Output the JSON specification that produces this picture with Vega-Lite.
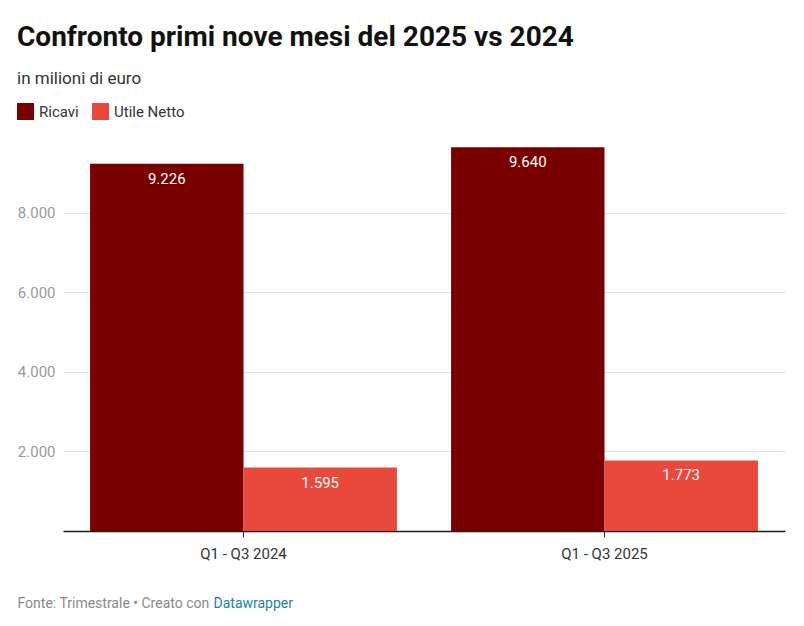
{
  "$schema": "https://vega.github.io/schema/vega-lite/v6.json",
  "width": 722,
  "height": 398,
  "autosize": {"type": "none"},
  "padding": {"left": 63, "top": 133, "right": 19, "bottom": 95},
  "background": "#ffffff",
  "title": {
    "text": "Confronto primi nove mesi del 2025 vs 2024",
    "subtitle": "in milioni di euro",
    "anchor": "start",
    "frame": "group",
    "dx": -46,
    "offset": 16,
    "font": "Roboto",
    "fontSize": 28,
    "fontWeight": "bold",
    "color": "#111111",
    "subtitleFont": "Roboto",
    "subtitleFontSize": 17,
    "subtitleColor": "#333333",
    "subtitlePadding": 19
  },
  "data": {
    "values": [
      {"periodo": "Q1 - Q3 2024", "voce": "Ricavi", "valore": 9226},
      {"periodo": "Q1 - Q3 2024", "voce": "Utile Netto", "valore": 1595},
      {"periodo": "Q1 - Q3 2025", "voce": "Ricavi", "valore": 9640},
      {"periodo": "Q1 - Q3 2025", "voce": "Utile Netto", "valore": 1773}
    ]
  },
  "encoding": {
    "x": {
      "field": "periodo",
      "type": "nominal",
      "scale": {"paddingInner": 0.15, "paddingOuter": 0.075}
    },
    "xOffset": {"field": "voce", "type": "nominal", "scale": {"paddingInner": 0, "paddingOuter": 0}},
    "y": {
      "field": "valore",
      "type": "quantitative",
      "scale": {"domain": [0, 10000], "nice": false},
      "axis": {
        "values": [2000, 4000, 6000, 8000],
        "format": ",d",
        "title": null,
        "domain": false,
        "ticks": false,
        "labelPadding": 8,
        "labelColor": "#9a9a9a",
        "labelFont": "Roboto",
        "labelFontSize": 15,
        "gridColor": "#e6e6e6",
        "gridWidth": 1
      }
    }
  },
  "layer": [
    {
      "mark": {"type": "bar"},
      "encoding": {
        "x": {
          "field": "periodo",
          "type": "nominal",
          "scale": {"paddingInner": 0.15, "paddingOuter": 0.075},
          "axis": {
            "orient": "bottom",
            "labelAngle": 0,
            "labelColor": "#333333",
            "labelFont": "Roboto",
            "labelFontSize": 15,
            "labelPadding": 9,
            "tickSize": 6,
            "tickColor": "#222222",
            "domainColor": "#1a1a1a",
            "domainWidth": 1.5,
            "grid": false,
            "title": "Fonte: Trimestrale • Creato con",
            "titleAnchor": "start",
            "titleAlign": "left",
            "titleX": -46,
            "titleY": 76,
            "titleBaseline": "alphabetic",
            "titleColor": "#8a8a8a",
            "titleFont": "Roboto",
            "titleFontSize": 14,
            "titleFontWeight": "normal"
          }
        },
        "color": {
          "field": "voce",
          "type": "nominal",
          "scale": {"domain": ["Ricavi", "Utile Netto"], "range": ["#7a0000", "#e9493d"]},
          "legend": {
            "title": null,
            "orient": "none",
            "direction": "horizontal",
            "legendX": -46,
            "legendY": -30,
            "padding": 0,
            "symbolType": "square",
            "symbolSize": 289,
            "symbolStrokeWidth": 0,
            "symbolOpacity": 1,
            "labelFont": "Roboto",
            "labelFontSize": 15,
            "labelColor": "#333333",
            "labelOffset": 5,
            "columnPadding": 13
          }
        }
      }
    },
    {
      "mark": {"type": "text", "baseline": "middle", "dy": 15, "color": "#ffffff", "font": "Roboto", "fontSize": 15},
      "encoding": {
        "x": {
          "field": "periodo",
          "type": "nominal",
          "scale": {"paddingInner": 0.15, "paddingOuter": 0.075},
          "axis": {
            "orient": "bottom",
            "labels": false,
            "ticks": false,
            "domain": false,
            "grid": false,
            "title": "Datawrapper",
            "titleAnchor": "start",
            "titleAlign": "left",
            "titleX": 150,
            "titleY": 76,
            "titleBaseline": "alphabetic",
            "titleColor": "#1d81a2",
            "titleFont": "Roboto",
            "titleFontSize": 14,
            "titleFontWeight": "normal"
          }
        },
        "text": {"field": "valore", "type": "quantitative", "format": ",d"}
      }
    }
  ],
  "resolve": {"axis": {"x": "independent"}},
  "config": {
    "locale": {
      "number": {"decimal": ",", "thousands": ".", "grouping": [3], "currency": ["€", ""]}
    },
    "view": {"stroke": null},
    "font": "Roboto"
  }
}
